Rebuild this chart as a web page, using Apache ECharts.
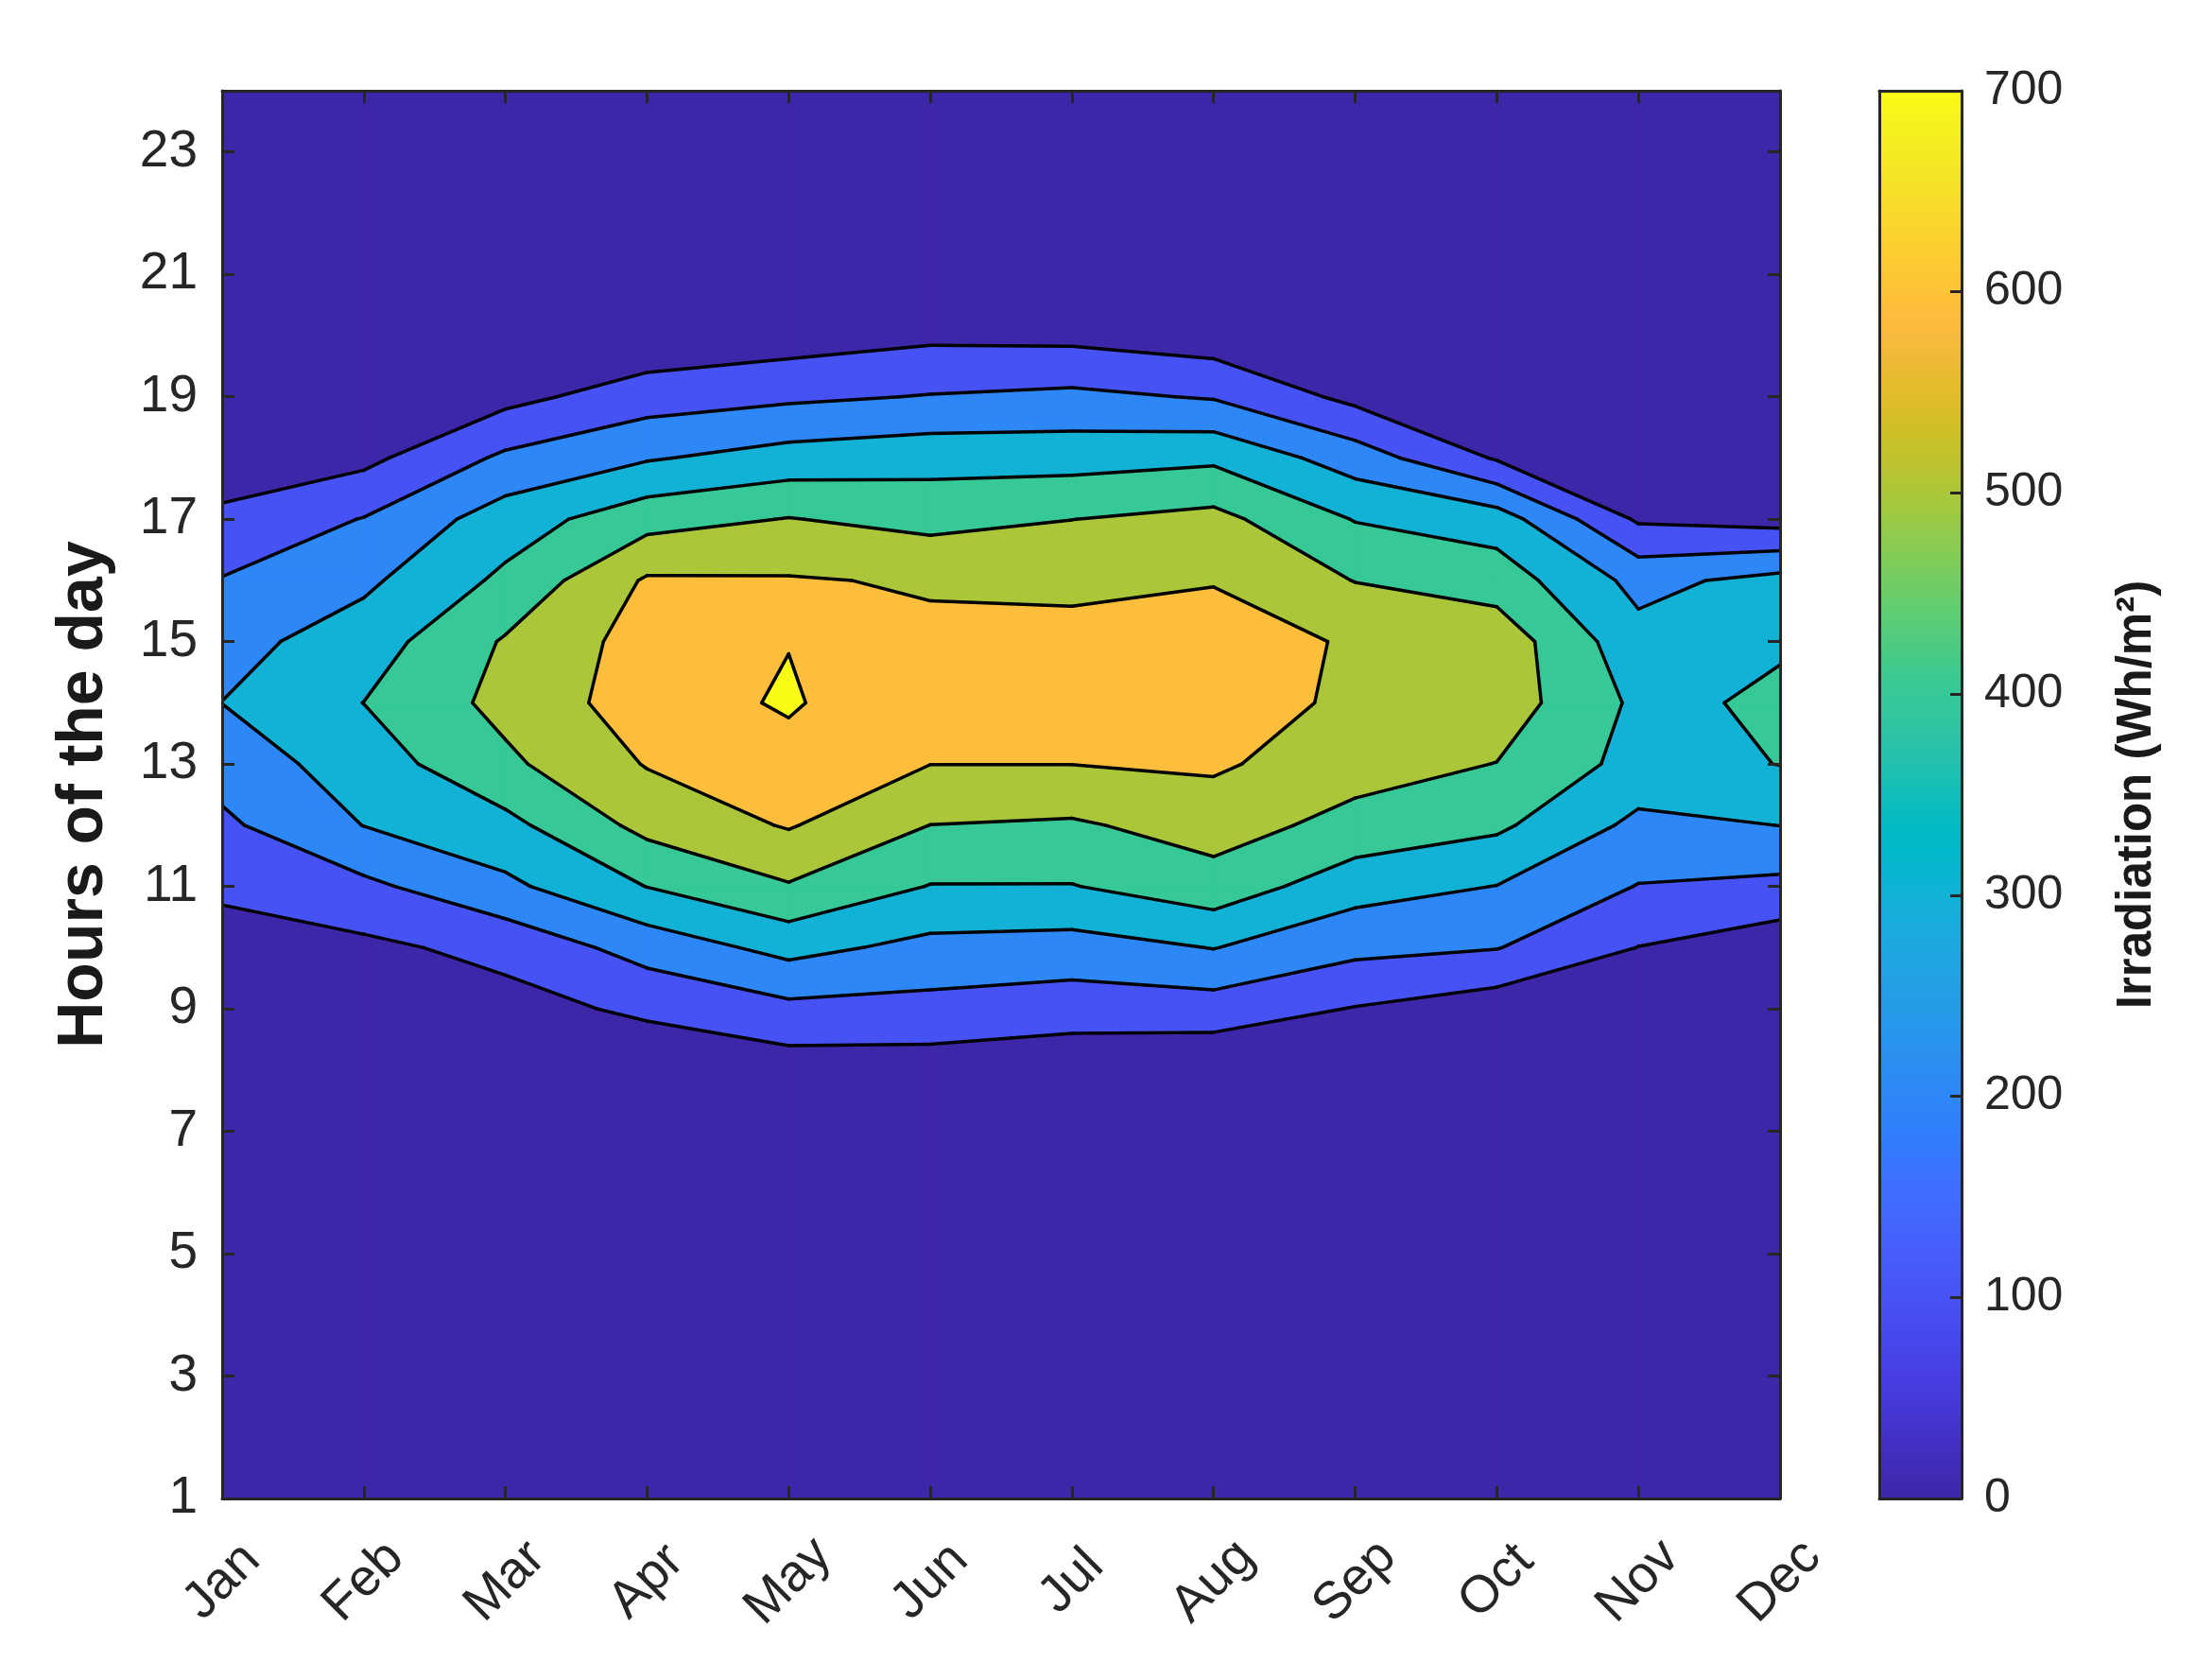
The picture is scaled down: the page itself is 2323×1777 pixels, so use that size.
<!DOCTYPE html>
<html>
<head>
<meta charset="utf-8">
<script src="https://cdn.jsdelivr.net/npm/echarts@6/dist/echarts.min.js"></script>
<style>
html, body { margin: 0; padding: 0; background: #fff; }
#chart { width: 2323px; height: 1777px; }
</style>
</head>
<body>
<div id="chart"></div>
<script>
var months = ['Jan', 'Feb', 'Mar', 'Apr', 'May', 'Jun', 'Jul', 'Aug', 'Sep', 'Oct', 'Nov', 'Dec'];
var hours = [1, 2, 3, 4, 5, 6, 7, 8, 9, 10, 11, 12, 13, 14, 15, 16, 17, 18, 19, 20, 21, 22, 23, 24];
var hourTicks = [1, 3, 5, 7, 9, 11, 13, 15, 17, 19, 21, 23];
var levels = [0, 100, 200, 300, 400, 500, 600, 700];
var colorbarRange = [0, 700];

// irradiation (Wh/m2) per month, one value per hour 1..24
var jan = [0, 0, 0, 0, 0, 0, 0, 0, 10, 56, 119, 181, 241, 301, 265, 205, 125, 30, 0, 0, 0, 0, 0, 0];
var feb = [0, 0, 0, 0, 0, 0, 0, 0, 8, 78, 178, 302, 350, 401, 350, 280, 204, 74, 5, 0, 0, 0, 0, 0];
var mar = [0, 0, 0, 0, 0, 0, 0, 5, 63, 130, 278, 372, 480, 530, 510, 421, 350, 219, 70, 5, 0, 0, 0, 0];
var apr = [0, 0, 0, 0, 0, 0, 2, 20, 120, 240, 402, 530, 606, 649, 640, 612, 462, 291, 153, 20, 0, 0, 0, 0];
var may = [0, 0, 0, 0, 0, 0, 5, 50, 175, 332, 492, 608, 663, 712, 697, 608, 504, 341, 182, 50, 0, 0, 0, 0];
var jun = [0, 0, 0, 0, 0, 0, 3, 50, 168, 271, 396, 499, 601, 612, 620, 590, 468, 363, 205, 80, 0, 0, 0, 0];
var jul = [0, 0, 0, 0, 0, 0, 0, 31, 146, 260, 396, 487, 601, 620, 615, 589, 499, 361, 222, 74, 0, 0, 0, 0];
var aug = [0, 0, 0, 0, 0, 0, 0, 13, 154, 303, 460, 542, 615, 630, 625, 597, 530, 381, 192, 44, 0, 0, 0, 0];
var sep = [0, 0, 0, 0, 0, 0, 0, 10, 95, 226, 340, 468, 540, 588, 594, 497, 395, 251, 73, 0, 0, 0, 0, 0];
var oct = [0, 0, 0, 0, 0, 0, 0, 0, 43, 204, 298, 419, 498, 555, 561, 454, 350, 90, 0, 0, 0, 0, 0, 0];
var nov = [0, 0, 0, 0, 0, 0, 0, 0, 20, 98, 196, 276, 365, 380, 334, 270, 86, 5, 0, 0, 0, 0, 0, 0];
var dec = [0, 0, 0, 0, 0, 0, 0, 0, 5, 38, 175, 301, 402, 413, 392, 333, 59, 0, 0, 0, 0, 0, 0, 0];
var irradiation = [jan, feb, mar, apr, may, jun, jul, aug, sep, oct, nov, dec];

// fill colour of each band (parula at the level)
var bandColors = ['#3e26a8', '#4752f4', '#2e87f7', '#12b1d6', '#37c897', '#abc739', '#fcbe3b', '#f9fb15'];

var parula = [
    '#3e26a8', '#402ab4', '#422ebf', '#4332cb', '#4537d5', '#463cde', '#4741e5', '#4747eb',
    '#484df0', '#4752f4', '#4758f8', '#465dfb', '#4563fc', '#4269fd', '#3e6ffe', '#3875fe',
    '#327cfc', '#2f81fa', '#2e87f7', '#2d8cf3', '#2b91ef', '#2796eb', '#259be7', '#23a0e5',
    '#20a5e3', '#1ca9df', '#18addb', '#12b1d6', '#08b5d0', '#01b8ca', '#02bac3', '#0bbdbc',
    '#19bfb6', '#24c1ae', '#2cc3a7', '#31c69f', '#37c897', '#3fca8e', '#4acb84', '#57cc7a',
    '#64cd6f', '#72cc64', '#81cc59', '#8fcb4e', '#9dc943', '#abc739', '#b9c431', '#c5c22a',
    '#d1bf27', '#dcbd29', '#e6bb2d', '#efba36', '#f8ba3d', '#febd3c', '#fec338', '#fec934',
    '#fccf30', '#f9d62d', '#f7dc2a', '#f5e327', '#f5e924', '#f5ef20', '#f7f51b', '#f9fb15'
];

var axisColor = '#262626';
var font = '"Liberation Sans", Arial, Helvetica, sans-serif';

function cornerPoint(i, j) {
    return [i + 1, hours[j]];
}

// walk the four corners of a cell and clip it to value >= level
function clipCell(i, j, level) {
    var c = [[i, j], [i + 1, j], [i + 1, j + 1], [i, j + 1]];
    var pts = [];
    var crossings = [];
    for (var k = 0; k < 4; k++) {
        var a = c[k], b = c[(k + 1) % 4];
        var va = irradiation[a[0]][a[1]];
        var vb = irradiation[b[0]][b[1]];
        var ina = va >= level, inb = vb >= level;
        var pa = cornerPoint(a[0], a[1]), pb = cornerPoint(b[0], b[1]);
        if (ina) pts.push(pa);
        if (ina !== inb) {
            var t = (level - va) / (vb - va);
            var p = [pa[0] + t * (pb[0] - pa[0]), pa[1] + t * (pb[1] - pa[1])];
            pts.push(p);
            crossings.push({ p: p, exit: ina });
        }
    }
    var segs = [];
    for (var n = 0; n < crossings.length; n++) {
        if (crossings[n].exit) {
            segs.push([crossings[n].p, crossings[(n + 1) % crossings.length].p]);
        }
    }
    return { poly: pts, segs: segs };
}

// cells, and cells per level (level-major so higher bands always paint last)
var cells = [];
var bandCells = [];
for (var i = 0; i < months.length - 1; i++) {
    for (var j = 0; j < hours.length - 1; j++) {
        cells.push([i + 1, hours[j], i, j]);
    }
}
levels.forEach(function (level, li) {
    cells.forEach(function (c) { bandCells.push([c[0], c[1], c[2], c[3], li]); });
});

function renderFill(params, api) {
    var i = api.value(2), j = api.value(3), li = api.value(4);
    var res = clipCell(i, j, levels[li]);
    if (res.poly.length < 3) return null;
    var pts = res.poly.map(function (p) { return api.coord(p); });
    return {
        type: 'polygon',
        shape: { points: pts },
        style: { fill: bandColors[li], stroke: bandColors[li], lineWidth: 1.5 }
    };
}

function renderLines(params, api) {
    var i = api.value(2), j = api.value(3);
    var children = [];
    levels.forEach(function (level) {
        if (level === 0) return;
        clipCell(i, j, level).segs.forEach(function (s) {
            var p1 = api.coord(s[0]), p2 = api.coord(s[1]);
            children.push({
                type: 'line',
                shape: { x1: p1[0], y1: p1[1], x2: p2[0], y2: p2[1] },
                style: { stroke: '#000', lineWidth: 3.5, lineCap: 'round' }
            });
        });
    });
    return { type: 'group', children: children };
}

function renderColorbar(params, api) {
    var p0 = api.coord([0, api.value(0)]);
    var p1 = api.coord([1, api.value(1)]);
    return {
        type: 'rect',
        shape: { x: p0[0], y: p1[1], width: p1[0] - p0[0], height: p0[1] - p1[1] },
        style: {
            fill: {
                type: 'linear', x: 0, y: 1, x2: 0, y2: 0,
                colorStops: parula.map(function (c, k) { return { offset: k / (parula.length - 1), color: c }; })
            }
        }
    };
}

function boxAxis(extra) {
    var base = {
        type: 'value',
        z: 10,
        axisLine: { show: true, onZero: false, lineStyle: { color: axisColor, width: 3 } },
        axisTick: { show: false },
        axisLabel: { show: false },
        splitLine: { show: false }
    };
    return Object.assign(base, extra);
}

var tickStyle = { show: true, inside: true, length: 13, lineStyle: { color: axisColor, width: 3 } };

var chart = echarts.init(document.getElementById('chart'));
chart.setOption({
    backgroundColor: '#fff',
    animation: false,
    grid: [
        { left: 235, top: 96, width: 1648, height: 1489 },
        { left: 1988, top: 96, width: 87, height: 1489 }
    ],
    xAxis: [
        boxAxis({
            gridIndex: 0, min: 1, max: 12, interval: 1, position: 'bottom',
            axisTick: tickStyle,
            axisLabel: {
                show: true, rotate: 45, margin: 88, align: 'center', verticalAlign: 'middle',
                hideOverlap: false, fontSize: 55, color: axisColor, fontFamily: font,
                formatter: function (v) { return months[v - 1]; }
            }
        }),
        boxAxis({ gridIndex: 0, min: 1, max: 12, interval: 1, position: 'top', axisTick: tickStyle }),
        boxAxis({ gridIndex: 1, min: 0, max: 1, position: 'bottom' }),
        boxAxis({ gridIndex: 1, min: 0, max: 1, position: 'top' })
    ],
    yAxis: [
        boxAxis({
            gridIndex: 0, min: 1, max: 24, position: 'left',
            axisTick: Object.assign({ customValues: hourTicks }, tickStyle),
            axisLabel: {
                show: true, customValues: hourTicks, margin: 26,
                fontSize: 55, color: axisColor, fontFamily: font
            },
            name: 'Hours of the day', nameLocation: 'middle', nameGap: 112,
            nameTextStyle: { fontSize: 68, fontWeight: 'bold', color: '#1a1a1a', fontFamily: font }
        }),
        boxAxis({
            gridIndex: 0, min: 1, max: 24, position: 'right',
            axisTick: Object.assign({ customValues: hourTicks }, tickStyle)
        }),
        boxAxis({
            gridIndex: 1, min: colorbarRange[0], max: colorbarRange[1], interval: 100, position: 'right',
            axisTick: { show: true, inside: true, length: 12, lineStyle: { color: axisColor, width: 3 } },
            axisLabel: { show: true, margin: 24, fontSize: 50, color: axisColor, fontFamily: font },
            name: 'Irradiation (Wh/m²)', nameLocation: 'middle', nameRotate: 90, nameGap: 160,
            nameTextStyle: { fontSize: 51, fontWeight: 'bold', color: '#1a1a1a', fontFamily: font }
        }),
        boxAxis({ gridIndex: 1, min: colorbarRange[0], max: colorbarRange[1], position: 'left' })
    ],
    series: [
        {
            type: 'custom', name: 'bands', xAxisIndex: 0, yAxisIndex: 0, z: 2,
            renderItem: renderFill, data: bandCells, clip: true, silent: true
        },
        {
            type: 'custom', name: 'contours', xAxisIndex: 0, yAxisIndex: 0, z: 3,
            renderItem: renderLines, data: cells, clip: true, silent: true
        },
        {
            type: 'custom', name: 'colorbar', xAxisIndex: 2, yAxisIndex: 2, z: 2,
            renderItem: renderColorbar, data: [[colorbarRange[0], colorbarRange[1]]], silent: true
        }
    ]
});
</script>
</body>
</html>
